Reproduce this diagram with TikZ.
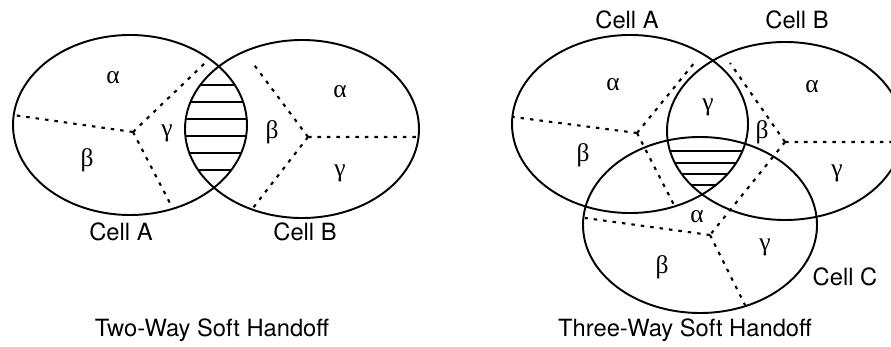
\documentclass[tikz,border=0pt]{standalone}
\usepackage{fontspec}
\setmainfont{TeX Gyre Heros}
\newfontfamily\greekfont{Liberation Serif}

\begin{document}
\begin{tikzpicture}[x=0.02cm, y=-0.02cm,
  cell/.style={line width=1.1pt},
  sector/.style={line width=1.2pt, dash pattern=on 2pt off 3.4pt},
  hatch/.style={line width=0.8pt},
  lbl/.style={font=\fontsize{13.5}{15}\selectfont},
  greek/.style={font=\greekfont\fontsize{14.5}{16}\selectfont}]
\useasboundingbox (0,0) rectangle (891,347);

% ---- two-way soft handoff ----
\draw[cell] (130,125) ellipse [x radius=117, y radius=90];
\draw[cell] (302,129) ellipse [x radius=117, y radius=89];
% shaded lens A and B
\begin{scope}
  \clip (130,125) ellipse [x radius=117, y radius=90];
  \clip (302,129) ellipse [x radius=117, y radius=89];
  \foreach \yy in {85,102,119,136,153,170}
    \draw[hatch] (170,\yy) -- (260,\yy);
\end{scope}
% sectors of cell A
\coordinate (ta) at (133,132);
\coordinate (ta1) at (13,115);
\coordinate (ta2) at (205,63);
\coordinate (ta3) at (172,207);
\draw[sector] (ta) -- (ta1) (ta) -- (ta2) (ta) -- (ta3);
% sectors of cell B
\coordinate (tb) at (308,137);
\coordinate (tb1) at (252,62);
\coordinate (tb2) at (418,137);
\coordinate (tb3) at (253,208);
\draw[sector] (tb) -- (tb1) (tb) -- (tb2) (tb) -- (tb3);
\node[greek] (taa) at (113,78) {α};
\node[greek] (tag) at (167,133) {γ};
\node[greek] (tab) at (87,160) {β};
\node[greek] (tba) at (340,92) {α};
\node[greek] (tbb) at (272,132) {β};
\node[greek] (tbg) at (340,173) {γ};
\node[lbl] (tcella) at (121,232) {Cell A};
\node[lbl] (tcellb) at (305,232) {Cell B};
\node[lbl] (ttitle) at (212,330) {Two-Way Soft Handoff};

% ---- three-way soft handoff ----
\draw[cell] (630,124) ellipse [x radius=118, y radius=89];
\draw[cell] (785,131) ellipse [x radius=118, y radius=89];
\draw[cell] (700,225) ellipse [x radius=117, y radius=88];
% shaded region A, B and C
\begin{scope}
  \clip (630,124) ellipse [x radius=118, y radius=89];
  \clip (785,131) ellipse [x radius=118, y radius=89];
  \clip (700,225) ellipse [x radius=117, y radius=88];
  \foreach \yy in {151,163,174,185,196}
    \draw[hatch] (650,\yy) -- (760,\yy);
\end{scope}
% sectors of cell A
\coordinate (ha) at (637,133);
\coordinate (ha1) at (513,117);
\coordinate (ha2) at (695,62);
\coordinate (ha3) at (675,207);
\draw[sector] (ha) -- (ha1) (ha) -- (ha2) (ha) -- (ha3);
% sectors of cells B and C, joined by one boundary
\coordinate (hb) at (785,142);
\coordinate (hb1) at (730,63);
\coordinate (hb2) at (893,142);
\coordinate (hc) at (710,235);
\coordinate (hc1) at (585,218);
\coordinate (hc3) at (745,305);
\draw[sector] (hb) -- (hb1) (hb) -- (hb2) (hb) -- (hc);
\draw[sector] (hc) -- (hc1) (hc) -- (hc3);
\node[greek] (haa) at (613,85) {α};
\node[greek] (hab) at (583,155) {β};
\node[greek] (hag) at (708,107) {γ};
\node[greek] (hba) at (812,87) {α};
\node[greek] (hbb) at (762,132) {β};
\node[greek] (hbg) at (837,173) {γ};
\node[greek] (hca) at (697,217) {α};
\node[greek] (hcg) at (765,247) {γ};
\node[greek] (hcb) at (662,267) {β};
\node[lbl] (hcella) at (627,20) {Cell A};
\node[lbl] (hcellb) at (797,20) {Cell B};
\node[lbl] (hcellc) at (845,277) {Cell C};
\node[lbl] (htitle) at (685,330) {Three-Way Soft Handoff};
\end{tikzpicture}
\end{document}
